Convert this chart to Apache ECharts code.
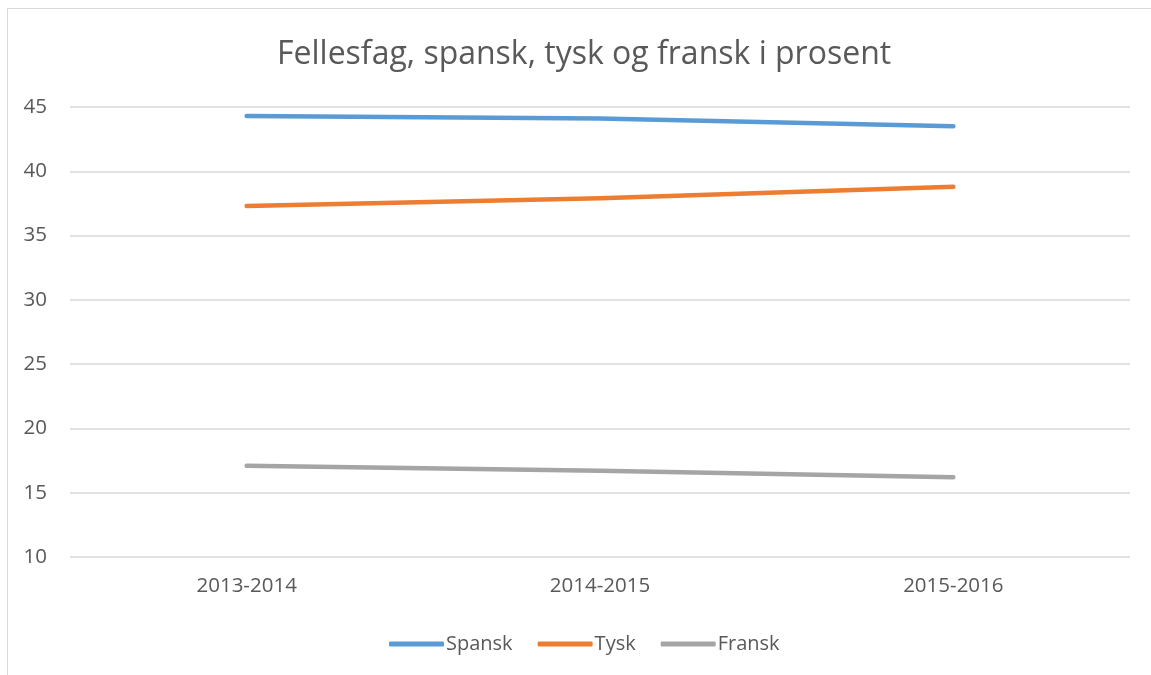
<!DOCTYPE html>
<html>
<head>
<meta charset="utf-8">
<script src="https://cdn.jsdelivr.net/npm/echarts@6/dist/echarts.min.js"></script>
<style>
  html, body { margin: 0; padding: 0; background: #fff; overflow: hidden; }
  #frame { position: absolute; left: 7px; top: 8px; width: 1200px; height: 720px; border: 1px solid #d9d9d9; }
  #chart { position: absolute; left: 0; top: 0; width: 1151px; height: 675px; }
</style>
</head>
<body>
<div id="frame"></div>
<div id="chart"></div>
<script>
var years = ['2013-2014', '2014-2015', '2015-2016'];
var spansk = [44.3, 44.1, 43.5];
var tysk = [37.3, 37.9, 38.8];
var fransk = [17.1, 16.7, 16.2];

var font = '"Open Sans", "Liberation Sans", sans-serif';
var textColor = '#595959';

var chart = echarts.init(document.getElementById('chart'));

function lineSeries(name, data, color) {
  return {
    name: name,
    type: 'line',
    data: data,
    showSymbol: false,
    symbol: 'none',
    color: color,
    lineStyle: { width: 4.5, color: color, cap: 'round', join: 'round' }
  };
}

chart.setOption({
  backgroundColor: 'transparent',
  animation: false,
  title: {
    text: 'Fellesfag, spansk, tysk og fransk i prosent',
    left: 272,
    top: 34,
    textStyle: { fontFamily: font, fontSize: 32, fontWeight: 'normal', color: textColor }
  },
  grid: { left: 70, right: 21, top: 107, bottom: 118 },
  xAxis: {
    type: 'category',
    data: years,
    boundaryGap: true,
    axisLine: { show: false },
    axisTick: { show: false },
    axisLabel: { fontFamily: font, fontSize: 20.5, color: textColor, margin: 19 }
  },
  yAxis: {
    type: 'value',
    min: 10,
    max: 45,
    interval: 5,
    axisLine: { show: false },
    axisTick: { show: false },
    axisLabel: { fontFamily: font, fontSize: 20.5, color: textColor, margin: 23 },
    splitLine: { lineStyle: { color: '#d9d9d9', width: 1.5 } }
  },
  legend: {
    data: ['Spansk', 'Tysk', 'Fransk'],
    left: 384,
    top: 629,
    icon: 'roundRect',
    itemWidth: 55,
    itemHeight: 5,
    itemGap: 25,
    textStyle: { fontFamily: font, fontSize: 20, color: textColor, padding: [0, 0, 0, -3] }
  },
  series: [
    lineSeries('Spansk', spansk, '#5b9bd5'),
    lineSeries('Tysk', tysk, '#ed7d31'),
    lineSeries('Fransk', fransk, '#a5a5a5')
  ]
});
</script>
</body>
</html>
